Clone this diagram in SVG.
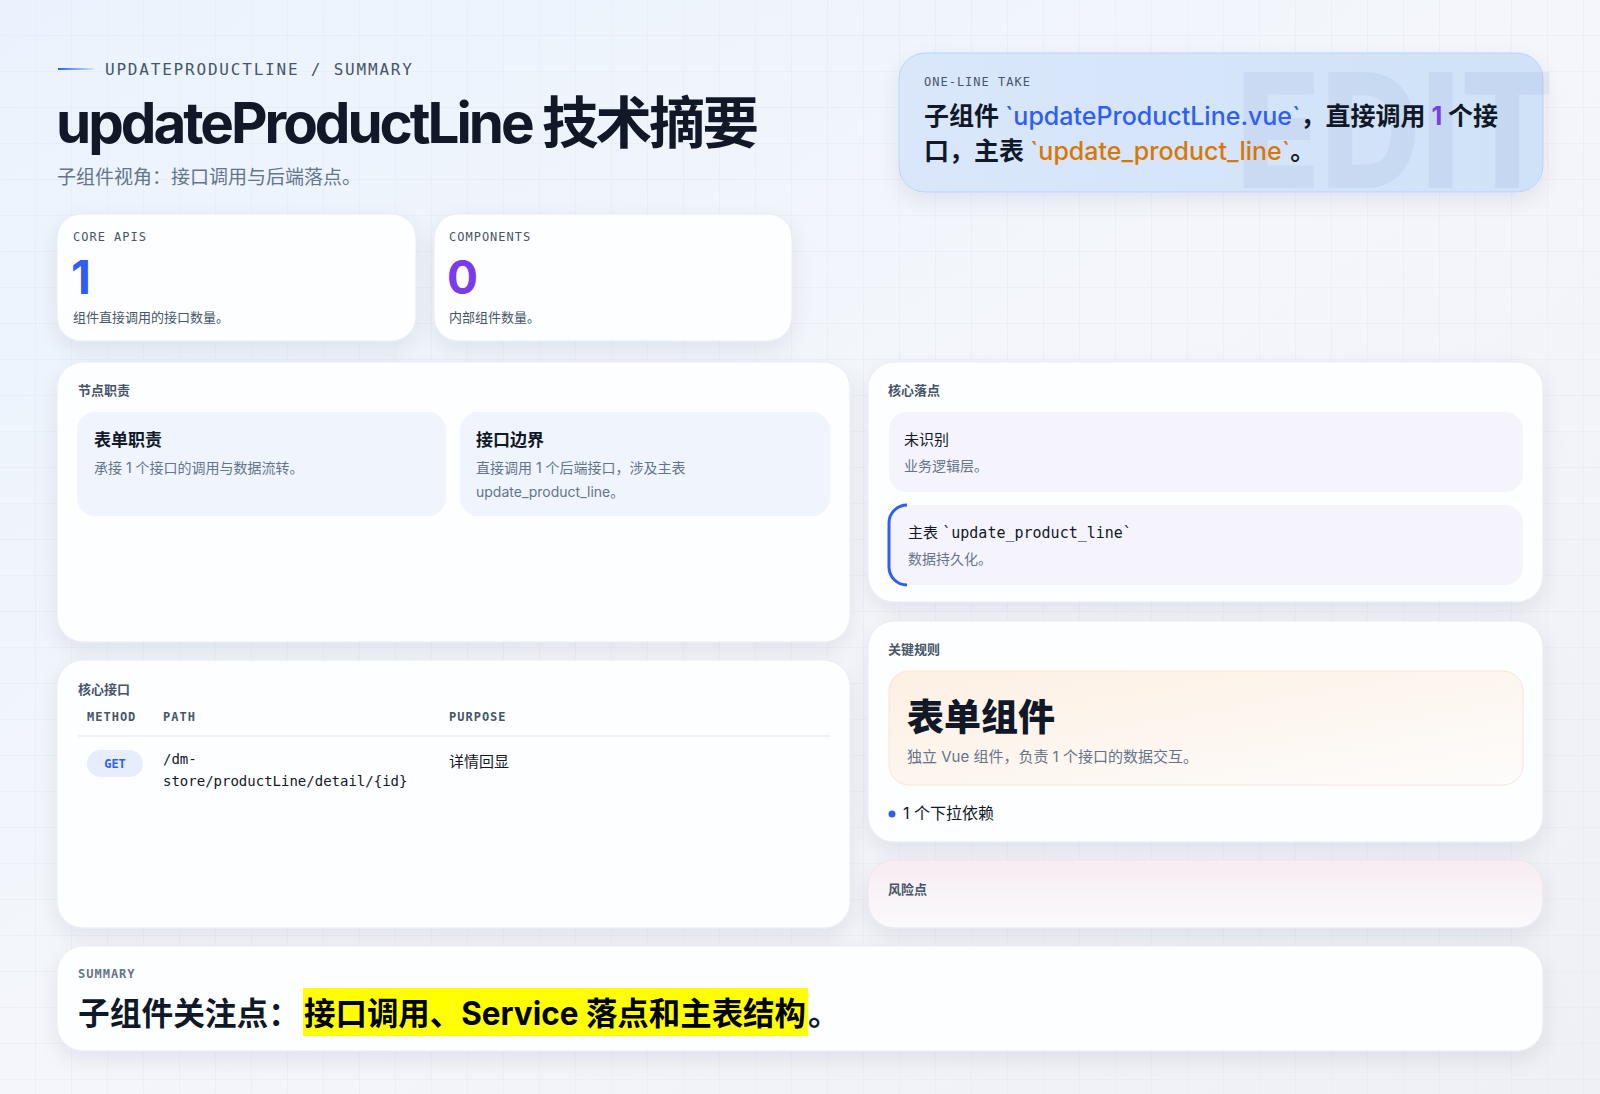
<svg xmlns="http://www.w3.org/2000/svg" width="1600" height="1094" viewBox="0 0 1600 1094">
<defs>
<linearGradient id="bg" x1="0" y1="0" x2="1" y2="1"><stop offset="0" stop-color="#eaf3fd"/><stop offset="0.5" stop-color="#f4f6fb"/><stop offset="1" stop-color="#eef0f5"/></linearGradient>
<pattern id="grid" width="36" height="36" patternUnits="userSpaceOnUse"><path d="M36 0V36H0" fill="none" stroke="#dfe4ee" stroke-width="1" opacity="0.7"/></pattern>
<linearGradient id="take" x1="0" y1="0" x2="1" y2="0"><stop offset="0" stop-color="#dae7fb"/><stop offset="1" stop-color="#cfe2f8"/></linearGradient>
<linearGradient id="peach" x1="0" y1="0" x2="1" y2="1"><stop offset="0" stop-color="#fdf0e3"/><stop offset="1" stop-color="#fdfcfb"/></linearGradient>
<linearGradient id="risk" x1="0" y1="0" x2="0" y2="1"><stop offset="0" stop-color="#f7ecf2"/><stop offset="1" stop-color="#fafafc"/></linearGradient>
<linearGradient id="line" x1="0" y1="0" x2="1" y2="0"><stop offset="0" stop-color="#2f5ef5"/><stop offset="1" stop-color="#2f5ef5" stop-opacity="0.1"/></linearGradient>
<filter id="sh" x="-10%" y="-20%" width="120%" height="150%"><feDropShadow dx="0" dy="8" stdDeviation="10" flood-color="#1e293b" flood-opacity="0.08"/></filter>
</defs>
<style>
.card{fill:#fdfeff;stroke:#e6eaf2;stroke-width:1;filter:url(#sh)}
.mono{font-family:"DejaVu Sans Mono","Liberation Mono",monospace}
.sans{font-family:Inter,"Noto Sans CJK SC",sans-serif}
.lbl{font-family:"Noto Sans CJK SC",sans-serif;font-size:13px;font-weight:700;fill:#475569}
.eye{font-size:12px;fill:#475569;letter-spacing:1px}
.dark{fill:#111827}
.muted{fill:#64748b}
.sum{font-size:32px;font-weight:700}
</style>
<rect width="1600" height="1094" fill="url(#bg)"/>
<rect width="1600" height="1094" fill="url(#grid)"/>

<g id="header">
<rect x="58" y="68" width="36" height="2" fill="url(#line)"/>
<text x="105" y="75" class="mono" font-size="16" fill="#475569" letter-spacing="1.8">UPDATEPRODUCTLINE / SUMMARY</text>
<text x="56" y="143" class="sans dark" font-size="56" font-weight="700" letter-spacing="-3" textLength="700" lengthAdjust="spacingAndGlyphs">updateProductLine 技术摘要</text>
<text x="57" y="184" class="sans" font-size="19" fill="#64748b">子组件视角：接口调用与后端落点。</text>
</g>

<g id="take">
<rect x="899" y="53" width="644" height="139" rx="26" fill="url(#take)" stroke="#b9d3f6" filter="url(#sh)"/>
<text x="1236" y="188" class="sans" font-size="160" font-weight="800" fill="#1e3a8a" opacity="0.05" textLength="318" lengthAdjust="spacingAndGlyphs">EDIT</text>
<text x="924" y="86" class="mono eye" fill="#64748b">ONE-LINE TAKE</text>
<text x="924" y="125" class="sans dark" font-size="25" font-weight="700">子组件 <tspan fill="#2f5ef5" font-weight="500">`updateProductLine.vue`</tspan>，直接调用 <tspan fill="#7c3aed">1</tspan> 个接</text>
<text x="924" y="160" class="sans dark" font-size="25" font-weight="700">口，主表 <tspan fill="#d97706" font-weight="500">`update_product_line`</tspan>。</text>
</g>

<g id="stat-apis">
<rect class="card" x="57" y="214" width="359" height="127" rx="24"/>
<text x="73" y="241" class="mono eye">CORE APIS</text>
<text x="71" y="294" class="sans" font-size="46" font-weight="700" fill="#2f5ef5">1</text>
<text x="73" y="322" class="sans" font-size="13" fill="#475569">组件直接调用的接口数量。</text>
</g>
<g id="stat-components">
<rect class="card" x="434" y="214" width="358" height="127" rx="24"/>
<text x="449" y="241" class="mono eye">COMPONENTS</text>
<text x="447" y="294" class="sans" font-size="46" font-weight="700" fill="#7c3aed">0</text>
<text x="449" y="322" class="sans" font-size="13" fill="#475569">内部组件数量。</text>
</g>

<g id="roles">
<rect class="card" x="57" y="362" width="793" height="280" rx="26"/>
<text x="78" y="395" class="lbl">节点职责</text>
<rect x="77" y="412" width="369" height="104" rx="18" fill="#eff4fd"/>
<text x="94" y="446" class="sans dark" font-size="17" font-weight="700">表单职责</text>
<text x="94" y="473" class="sans muted" font-size="14">承接 1 个接口的调用与数据流转。</text>
<rect x="460" y="412" width="370" height="104" rx="18" fill="#eff4fd"/>
<text x="476" y="446" class="sans dark" font-size="17" font-weight="700">接口边界</text>
<text x="476" y="473" class="sans muted" font-size="14">直接调用 1 个后端接口，涉及主表</text>
<text x="476" y="497" class="sans muted" font-size="14">update_product_line。</text>
</g>

<g id="landing">
<rect class="card" x="868" y="362" width="675" height="240" rx="26"/>
<text x="888" y="395" class="lbl">核心落点</text>
<rect x="889" y="412" width="634" height="80" rx="18" fill="#f5f4fd"/>
<text x="904" y="445" class="sans dark" font-size="15">未识别</text>
<text x="904" y="471" class="sans muted" font-size="14">业务逻辑层。</text>
<rect x="889" y="505" width="634" height="80" rx="18" fill="#f5f4fd"/>
<path d="M907 505 A18 18 0 0 0 889 523 V567 A18 18 0 0 0 907 585" fill="none" stroke="#2f5ef5" stroke-width="3"/>
<text x="908" y="538" class="sans dark" font-size="15">主表 <tspan class="mono">`update_product_line`</tspan></text>
<text x="908" y="564" class="sans muted" font-size="14">数据持久化。</text>
</g>

<g id="apis">
<rect class="card" x="57" y="660" width="793" height="268" rx="26"/>
<text x="78" y="694" class="lbl">核心接口</text>
<text x="87" y="721" class="mono" font-size="12" font-weight="700" fill="#475569" letter-spacing="1">METHOD</text>
<text x="163" y="721" class="mono" font-size="12" font-weight="700" fill="#475569" letter-spacing="1">PATH</text>
<text x="449" y="721" class="mono" font-size="12" font-weight="700" fill="#475569" letter-spacing="1">PURPOSE</text>
<line x1="78" y1="736" x2="830" y2="736" stroke="#e5e7eb"/>
<rect x="87" y="750" width="56" height="27" rx="13.5" fill="#e6edfd"/>
<text x="115" y="768" class="mono" font-size="12" font-weight="700" fill="#2f5ef5" text-anchor="middle">GET</text>
<text x="163" y="764" class="mono dark" font-size="14">/dm-</text>
<text x="163" y="786" class="mono dark" font-size="14">store/productLine/detail/{id}</text>
<text x="449" y="767" class="sans dark" font-size="15">详情回显</text>
</g>

<g id="rules">
<rect class="card" x="868" y="621" width="675" height="221" rx="26"/>
<text x="888" y="654" class="lbl">关键规则</text>
<rect x="889" y="671" width="634" height="114" rx="20" fill="url(#peach)" stroke="#f8e6d3"/>
<text x="907" y="731" class="sans dark" font-size="37" font-weight="800">表单组件</text>
<text x="907" y="762" class="sans muted" font-size="15">独立 Vue 组件，负责 1 个接口的数据交互。</text>
<circle cx="892" cy="814" r="3.5" fill="#2f5ef5"/>
<text x="903" y="819" class="sans dark" font-size="16">1 个下拉依赖</text>
</g>

<g id="risks">
<rect x="868" y="860" width="675" height="68" rx="26" fill="url(#risk)" stroke="#ebe3ea" filter="url(#sh)"/>
<text x="888" y="894" class="lbl">风险点</text>
</g>

<g id="summary">
<rect class="card" x="57" y="946" width="1486" height="105" rx="26"/>
<text x="78" y="978" class="mono" font-size="12" font-weight="700" fill="#64748b" letter-spacing="1">SUMMARY</text>
<rect x="303" y="988" width="505" height="48" fill="#ffff00"/>
<text x="78" y="1025" class="sans dark sum" textLength="222" lengthAdjust="spacingAndGlyphs">子组件关注点：</text>
<text x="304" y="1025" class="sans sum" fill="#000" textLength="502" lengthAdjust="spacingAndGlyphs">接口调用、Service 落点和主表结构</text>
<text x="808" y="1025" class="sans dark sum">。</text>
</g>
<g id="connectors"/>
</svg>
